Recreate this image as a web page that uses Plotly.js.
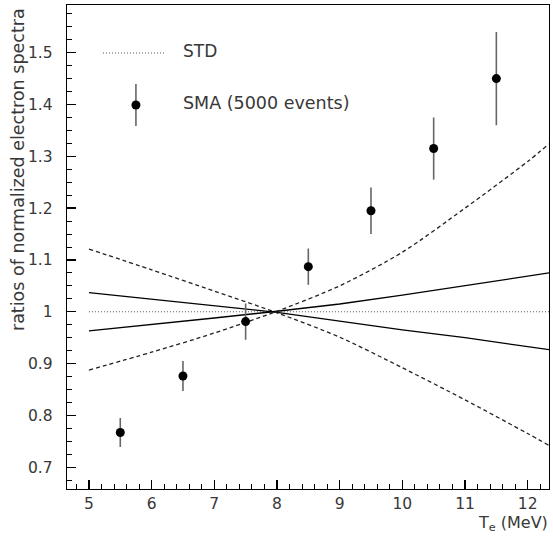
<!DOCTYPE html>
<html>
<head>
<meta charset="utf-8">
<script src="https://cdn.plot.ly/plotly-3.0.1.min.js"></script>
<style>html,body{margin:0;padding:0;background:#fff;}#chart{width:553px;height:537px;}</style>
</head>
<body>
<div id="chart"></div>
<script>
// Data points (SMA, 5000 events)
var smaX = [5.5, 6.5, 7.5, 8.5, 9.5, 10.5, 11.5];
var smaY = [0.767, 0.876, 0.981, 1.087, 1.195, 1.315, 1.450];
var smaErr = [0.028, 0.029, 0.035, 0.035, 0.045, 0.060, 0.090];

// Band curves
var curveX = [5, 6, 7, 8, 9, 10, 11, 12, 12.34];
var solidUp = [1.037, 1.024, 1.012, 0.999, 0.982, 0.965, 0.950, 0.933, 0.927];
var solidLow = [0.963, 0.975, 0.988, 1.001, 1.015, 1.032, 1.050, 1.068, 1.075];
var dashedRise = [0.8875, 0.922, 0.959, 1.001, 1.050, 1.115, 1.200, 1.290, 1.324];
var dashedFall = [1.121, 1.081, 1.040, 0.998, 0.951, 0.892, 0.830, 0.765, 0.742];
var stdX = [5, 12.34];
var stdY = [1, 1];

// Labels
var xTitle = 'T<sub>e</sub> (MeV)';
var yTitle = 'ratios of normalized electron spectra';
var legendStd = 'STD';
var legendSma = 'SMA (5000 events)';

var fontFam = 'DejaVu Sans, Verdana, sans-serif';
var txtColor = '#383838';

var traces = [
  {x: stdX, y: stdY, mode: 'lines', line: {color: '#555', width: 1, dash: '1px,2px'}, hoverinfo: 'skip'},
  {x: curveX, y: solidUp, mode: 'lines', line: {color: '#000', width: 1.3}, hoverinfo: 'skip'},
  {x: curveX, y: solidLow, mode: 'lines', line: {color: '#000', width: 1.3}, hoverinfo: 'skip'},
  {x: curveX, y: dashedRise, mode: 'lines', line: {color: '#222', width: 1.3, dash: '4px,3px', shape: 'spline', smoothing: 0.8}, hoverinfo: 'skip'},
  {x: curveX, y: dashedFall, mode: 'lines', line: {color: '#222', width: 1.3, dash: '4px,3px', shape: 'spline', smoothing: 0.8}, hoverinfo: 'skip'},
  {x: smaX, y: smaY, mode: 'markers', marker: {color: '#000', size: 9},
   error_y: {type: 'data', array: smaErr, visible: true, color: '#666', thickness: 1.6, width: 0}}
];

function px2x(p){ return (p - 67) / 482.5; }
function py2y(p){ return (489 - p) / 484; }

var layout = {
  width: 553, height: 537,
  margin: {l: 67, r: 4, t: 5, b: 48},
  paper_bgcolor: '#fff', plot_bgcolor: '#fff',
  showlegend: false,
  font: {family: fontFam, size: 16, color: txtColor},
  xaxis: {
    range: [4.65, 12.34], dtick: 1, tick0: 0,
    showgrid: false, zeroline: false,
    showline: true, linecolor: '#000', linewidth: 1.3, mirror: true,
    ticks: 'inside', ticklen: 9, tickwidth: 1.3, tickcolor: '#000',
    minor: {ticks: 'inside', ticklen: 5, dtick: 0.2, tick0: 0, tickcolor: '#000', tickwidth: 1},
    tickfont: {family: fontFam, size: 15.5, color: txtColor}
  },
  yaxis: {
    range: [0.658, 1.592], dtick: 0.1, tick0: 0,
    showgrid: false, zeroline: false,
    showline: true, linecolor: '#000', linewidth: 1.3, mirror: true,
    ticks: 'inside', ticklen: 9, tickwidth: 1.3, tickcolor: '#000',
    minor: {ticks: 'inside', ticklen: 5, dtick: 0.025, tick0: 0, tickcolor: '#000', tickwidth: 1},
    tickfont: {family: fontFam, size: 15.5, color: txtColor},
    ticklabelstandoff: 10
  },
  shapes: [
    {type: 'line', xref: 'paper', yref: 'paper', x0: px2x(103), x1: px2x(166), y0: py2y(53), y1: py2y(53),
     line: {color: '#555', width: 1, dash: '1px,2px'}},
    {type: 'line', xref: 'paper', yref: 'paper', x0: px2x(136), x1: px2x(136), y0: py2y(84), y1: py2y(126),
     line: {color: '#666', width: 1.6}},
    {type: 'circle', xref: 'paper', yref: 'paper', xsizemode: 'pixel', ysizemode: 'pixel',
     xanchor: px2x(136), yanchor: py2y(105), x0: -4.5, x1: 4.5, y0: -4.5, y1: 4.5,
     fillcolor: '#000', line: {color: '#000', width: 0}}
  ],
  annotations: [
    {text: legendStd, xref: 'paper', yref: 'paper', x: px2x(181), y: py2y(51), xanchor: 'left', yanchor: 'middle',
     showarrow: false, font: {family: fontFam, size: 17, color: txtColor}},
    {text: legendSma, xref: 'paper', yref: 'paper', x: px2x(181), y: py2y(103), xanchor: 'left', yanchor: 'middle',
     showarrow: false, font: {family: fontFam, size: 17.5, color: txtColor}},
    {text: yTitle, xref: 'paper', yref: 'paper', x: px2x(18), y: py2y(170), xanchor: 'center', yanchor: 'middle',
     textangle: -90, showarrow: false, font: {family: fontFam, size: 17.5, color: txtColor}},
    {text: xTitle, xref: 'paper', yref: 'paper', x: px2x(551), y: py2y(523), xanchor: 'right', yanchor: 'middle',
     showarrow: false, font: {family: fontFam, size: 16, color: txtColor}}
  ]
};

Plotly.newPlot('chart', traces, layout, {displayModeBar: false, staticPlot: true});
</script>
</body>
</html>
